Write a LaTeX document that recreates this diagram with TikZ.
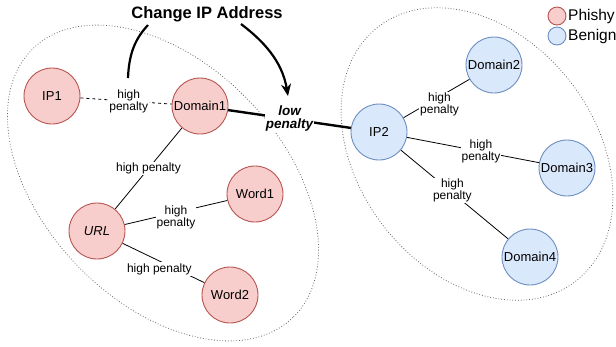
\documentclass[tikz,border=0pt]{standalone}
\usepackage{fontspec}
\setmainfont{Liberation Sans}
\usetikzlibrary{arrows.meta}
\definecolor{pinkfill}{HTML}{F8CECC}
\definecolor{pinkline}{HTML}{B85450}
\definecolor{bluefill}{HTML}{DAE8FC}
\definecolor{blueline}{HTML}{6C8EBF}
\begin{document}
\begin{tikzpicture}[x=1pt,y=-1pt,
  phish/.style={circle,draw=pinkline,fill=pinkfill,line width=0.9pt,minimum size=56pt,inner sep=0pt,font=\fontsize{13}{14}\selectfont},
  benign/.style={phish,draw=blueline,fill=bluefill},
  lbl/.style={fill=white,inner sep=1pt,align=center,font=\fontsize{12}{11}\selectfont},
  edge/.style={line width=0.8pt},
  group/.style={dotted,line width=0.8pt,draw=black!60},
  bigarrow/.style={line width=2.2pt},
]
\useasboundingbox (0,0) rectangle (616,346);
% groups
\draw[group, rotate around={-46:(163,183)}] (163,183) ellipse [x radius=187, y radius=119];
\draw[group, rotate around={-52:(477,154)}] (477,154) ellipse [x radius=161, y radius=118];
% nodes
\node[phish] (ip1) at (52,96) {IP1};
\node[phish] (d1) at (200,106) {Domain1};
\node[phish] (url) at (97,231) {\itshape URL};
\node[phish] (w1) at (255,194) {Word1};
\node[phish] (w2) at (230,295) {Word2};
\node[benign] (ip2) at (379,132) {IP2};
\node[benign] (d2) at (494,65) {Domain2};
\node[benign] (d3) at (567,168) {Domain3};
\node[benign] (d4) at (530,257) {Domain4};
% edges
\draw[edge,dash pattern=on 3pt off 3pt] (ip1) -- node[lbl,pos=0.53] (l1) {high\\penalty} (d1);
\draw[edge] (d1) -- node[lbl] (l2) {high penalty} (url);
\draw[edge] (url) -- node[lbl,pos=0.5,yshift=-5pt] (l3) {high\\penalty} (w1);
\draw[edge] (url) -- node[lbl,pos=0.45,yshift=-8pt] (l4) {high penalty} (w2);
\draw[line width=2.4pt] (d1) -- node[lbl,font=\fontsize{13.5}{13}\selectfont\bfseries\itshape] (lp) {low\\penalty} (ip2);
\draw[edge] (ip2) -- node[lbl,pos=0.5,yshift=-6pt,xshift=3pt] (l5) {high\\penalty} (d2);
\draw[edge] (ip2) -- node[lbl,pos=0.56] (l6) {high\\penalty} (d3);
\draw[edge] (ip2) -- node[lbl,pos=0.48,yshift=2pt] (l7) {high\\penalty} (d4);
% title and arrows
\node[font=\fontsize{16.5}{18}\selectfont\bfseries,inner sep=1pt] (chg) at (207,14) {Change IP Address};
\coordinate (a0) at (128,78);
\coordinate (a1) at (148,25);
\coordinate (a2) at (241,24);
\coordinate (a3) at (288,96);
\draw[bigarrow] (a0) .. controls (129,52) and (136,38) .. (a1);
\draw[bigarrow,-{Stealth[length=12pt,width=10pt]}] (a2) .. controls (262,40) and (282,60) .. (a3);
% legend
\node[circle,draw=pinkline,fill=pinkfill,line width=0.9pt,minimum size=18pt,inner sep=0pt] (lgp) at (557,16) {};
\node[anchor=west,inner sep=0pt,font=\fontsize{15.5}{16}\selectfont] (lgpt) at (568,16.5) {Phishy};
\node[circle,draw=blueline,fill=bluefill,line width=0.9pt,minimum size=18pt,inner sep=0pt] (lgb) at (557,36) {};
\node[anchor=west,inner sep=0pt,font=\fontsize{15.5}{16}\selectfont] (lgbt) at (568,36.5) {Benign};
\end{tikzpicture}
\end{document}
